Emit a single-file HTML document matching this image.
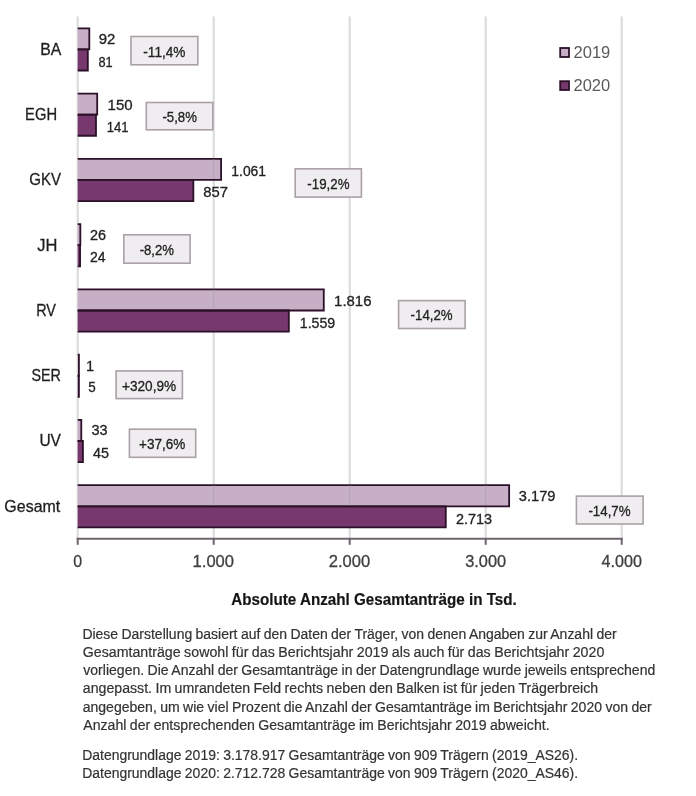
<!DOCTYPE html><html><head><meta charset="utf-8"><style>html,body{margin:0;padding:0;background:#fff;width:696px;height:796px;overflow:hidden}svg{display:block;font-family:"Liberation Sans",sans-serif;filter:blur(0.35px)}</style></head><body>
<svg width="696" height="796" viewBox="0 0 696 796">
<line x1="77.70" y1="16.6" x2="77.70" y2="538.8" stroke="#d9d9d9" stroke-width="2"/>
<line x1="213.70" y1="16.6" x2="213.70" y2="538.8" stroke="#d9d9d9" stroke-width="2"/>
<line x1="349.70" y1="16.6" x2="349.70" y2="538.8" stroke="#d9d9d9" stroke-width="2"/>
<line x1="485.70" y1="16.6" x2="485.70" y2="538.8" stroke="#d9d9d9" stroke-width="2"/>
<line x1="621.70" y1="16.6" x2="621.70" y2="538.8" stroke="#d9d9d9" stroke-width="2"/>
<rect x="77.70" y="28.30" width="11.61" height="21.10" fill="#c7b0c6"/>
<rect x="77.70" y="49.40" width="10.12" height="21.10" fill="#76386d"/>
<path d="M77.70 28.30 H89.31 V49.40 H77.70" fill="none" stroke="#2b1028" stroke-width="1.80"/>
<path d="M77.70 49.40 H87.82 V70.50 H77.70" fill="none" stroke="#2b1028" stroke-width="1.80"/>
<rect x="77.70" y="93.57" width="19.50" height="21.10" fill="#c7b0c6"/>
<rect x="77.70" y="114.67" width="18.28" height="21.10" fill="#76386d"/>
<path d="M77.70 93.57 H97.20 V114.67 H77.70" fill="none" stroke="#2b1028" stroke-width="1.80"/>
<path d="M77.70 114.67 H95.98 V135.77 H77.70" fill="none" stroke="#2b1028" stroke-width="1.80"/>
<rect x="77.70" y="158.84" width="143.40" height="21.10" fill="#c7b0c6"/>
<rect x="77.70" y="179.94" width="115.65" height="21.10" fill="#76386d"/>
<path d="M77.70 158.84 H221.10 V179.94 H77.70" fill="none" stroke="#2b1028" stroke-width="1.80"/>
<path d="M77.70 179.94 H193.35 V201.04 H77.70" fill="none" stroke="#2b1028" stroke-width="1.80"/>
<rect x="77.70" y="224.11" width="2.64" height="21.10" fill="#c7b0c6"/>
<rect x="77.70" y="245.21" width="2.36" height="21.10" fill="#76386d"/>
<path d="M77.70 224.11 H80.34 V245.21 H77.70" fill="none" stroke="#2b1028" stroke-width="1.80"/>
<path d="M77.70 245.21 H80.06 V266.31 H77.70" fill="none" stroke="#2b1028" stroke-width="1.80"/>
<rect x="77.70" y="289.38" width="246.08" height="21.10" fill="#c7b0c6"/>
<rect x="77.70" y="310.48" width="211.12" height="21.10" fill="#76386d"/>
<path d="M77.70 289.38 H323.78 V310.48 H77.70" fill="none" stroke="#2b1028" stroke-width="1.80"/>
<path d="M77.70 310.48 H288.82 V331.58 H77.70" fill="none" stroke="#2b1028" stroke-width="1.80"/>
<rect x="77.70" y="354.65" width="1.20" height="21.10" fill="#c7b0c6"/>
<rect x="77.70" y="375.75" width="1.20" height="21.10" fill="#76386d"/>
<path d="M77.70 354.65 H78.90 V375.75 H77.70" fill="none" stroke="#2b1028" stroke-width="1.80"/>
<path d="M77.70 375.75 H78.90 V396.85 H77.70" fill="none" stroke="#2b1028" stroke-width="1.80"/>
<rect x="77.70" y="419.92" width="3.59" height="21.10" fill="#c7b0c6"/>
<rect x="77.70" y="441.02" width="5.22" height="21.10" fill="#76386d"/>
<path d="M77.70 419.92 H81.29 V441.02 H77.70" fill="none" stroke="#2b1028" stroke-width="1.80"/>
<path d="M77.70 441.02 H82.92 V462.12 H77.70" fill="none" stroke="#2b1028" stroke-width="1.80"/>
<rect x="77.70" y="485.19" width="431.44" height="21.10" fill="#c7b0c6"/>
<rect x="77.70" y="506.29" width="368.07" height="21.10" fill="#76386d"/>
<path d="M77.70 485.19 H509.14 V506.29 H77.70" fill="none" stroke="#2b1028" stroke-width="1.80"/>
<path d="M77.70 506.29 H445.77 V527.39 H77.70" fill="none" stroke="#2b1028" stroke-width="1.80"/>
<line x1="213.70" y1="158.94" x2="213.70" y2="178.94" stroke="#a898a6" stroke-opacity="0.35" stroke-width="2"/>
<line x1="213.70" y1="289.48" x2="213.70" y2="309.48" stroke="#a898a6" stroke-opacity="0.35" stroke-width="2"/>
<line x1="213.70" y1="485.29" x2="213.70" y2="505.29" stroke="#a898a6" stroke-opacity="0.35" stroke-width="2"/>
<line x1="349.70" y1="485.29" x2="349.70" y2="505.29" stroke="#a898a6" stroke-opacity="0.35" stroke-width="2"/>
<line x1="485.70" y1="485.29" x2="485.70" y2="505.29" stroke="#a898a6" stroke-opacity="0.35" stroke-width="2"/>
<line x1="76.70" y1="538.8" x2="622.70" y2="538.8" stroke="#6e646c" stroke-width="2"/>
<line x1="77.70" y1="538" x2="77.70" y2="544.8" stroke="#6e646c" stroke-width="2"/>
<line x1="213.70" y1="538" x2="213.70" y2="544.8" stroke="#6e646c" stroke-width="2"/>
<line x1="349.70" y1="538" x2="349.70" y2="544.8" stroke="#6e646c" stroke-width="2"/>
<line x1="485.70" y1="538" x2="485.70" y2="544.8" stroke="#6e646c" stroke-width="2"/>
<line x1="621.70" y1="538" x2="621.70" y2="544.8" stroke="#6e646c" stroke-width="2"/>
<rect x="131.00" y="36.50" width="66.80" height="28.30" fill="#efedef" stroke="#a9a1a7" stroke-width="1.6"/>
<rect x="146.30" y="102.50" width="66.50" height="27.30" fill="#efedef" stroke="#a9a1a7" stroke-width="1.6"/>
<rect x="295.20" y="168.80" width="66.20" height="28.30" fill="#efedef" stroke="#a9a1a7" stroke-width="1.6"/>
<rect x="123.80" y="234.80" width="66.30" height="28.40" fill="#efedef" stroke="#a9a1a7" stroke-width="1.6"/>
<rect x="398.60" y="300.60" width="66.50" height="27.90" fill="#efedef" stroke="#a9a1a7" stroke-width="1.6"/>
<rect x="116.10" y="370.90" width="66.30" height="27.70" fill="#efedef" stroke="#a9a1a7" stroke-width="1.6"/>
<rect x="129.40" y="429.20" width="66.30" height="28.10" fill="#efedef" stroke="#a9a1a7" stroke-width="1.6"/>
<rect x="576.40" y="496.10" width="66.70" height="27.90" fill="#efedef" stroke="#a9a1a7" stroke-width="1.6"/>
<rect x="560.20" y="48.00" width="8.80" height="9.00" fill="#c7b0c6" stroke="#2b1028" stroke-width="1.8"/>
<rect x="560.20" y="81.20" width="8.80" height="8.80" fill="#76386d" stroke="#2b1028" stroke-width="1.8"/>
<text x="40.22" y="54.50" font-size="16.60" fill="#1e1e1e" stroke="#1e1e1e" stroke-width="0.30" textLength="21.05" lengthAdjust="spacingAndGlyphs">BA</text>
<text x="25.11" y="119.90" font-size="16.60" fill="#1e1e1e" stroke="#1e1e1e" stroke-width="0.30" textLength="31.96" lengthAdjust="spacingAndGlyphs">EGH</text>
<text x="29.20" y="184.50" font-size="16.60" fill="#1e1e1e" stroke="#1e1e1e" stroke-width="0.30" textLength="31.74" lengthAdjust="spacingAndGlyphs">GKV</text>
<text x="37.21" y="250.50" font-size="16.60" fill="#1e1e1e" stroke="#1e1e1e" stroke-width="0.30" textLength="20.16" lengthAdjust="spacingAndGlyphs">JH</text>
<text x="36.13" y="315.80" font-size="16.60" fill="#1e1e1e" stroke="#1e1e1e" stroke-width="0.30" textLength="19.75" lengthAdjust="spacingAndGlyphs">RV</text>
<text x="31.43" y="380.50" font-size="16.60" fill="#1e1e1e" stroke="#1e1e1e" stroke-width="0.30" textLength="29.40" lengthAdjust="spacingAndGlyphs">SER</text>
<text x="39.40" y="446.40" font-size="16.60" fill="#1e1e1e" stroke="#1e1e1e" stroke-width="0.30" textLength="21.55" lengthAdjust="spacingAndGlyphs">UV</text>
<text x="4.36" y="511.70" font-size="16.60" fill="#1e1e1e" stroke="#1e1e1e" stroke-width="0.30" textLength="55.90" lengthAdjust="spacingAndGlyphs">Gesamt</text>
<text x="98.65" y="44.30" font-size="14.70" fill="#222222" stroke="#222222" stroke-width="0.30" textLength="16.62" lengthAdjust="spacingAndGlyphs">92</text>
<text x="98.46" y="66.50" font-size="14.70" fill="#222222" stroke="#222222" stroke-width="0.30" textLength="14.19" lengthAdjust="spacingAndGlyphs">81</text>
<text x="107.61" y="110.00" font-size="14.70" fill="#222222" stroke="#222222" stroke-width="0.30" textLength="25.05" lengthAdjust="spacingAndGlyphs">150</text>
<text x="106.69" y="132.00" font-size="14.70" fill="#222222" stroke="#222222" stroke-width="0.30" textLength="21.81" lengthAdjust="spacingAndGlyphs">141</text>
<text x="231.32" y="175.60" font-size="14.70" fill="#222222" stroke="#222222" stroke-width="0.30" textLength="34.74" lengthAdjust="spacingAndGlyphs">1.061</text>
<text x="203.20" y="196.70" font-size="14.70" fill="#222222" stroke="#222222" stroke-width="0.30" textLength="24.73" lengthAdjust="spacingAndGlyphs">857</text>
<text x="89.88" y="239.90" font-size="14.70" fill="#222222" stroke="#222222" stroke-width="0.30" textLength="16.04" lengthAdjust="spacingAndGlyphs">26</text>
<text x="89.92" y="262.10" font-size="14.70" fill="#222222" stroke="#222222" stroke-width="0.30" textLength="15.58" lengthAdjust="spacingAndGlyphs">24</text>
<text x="334.10" y="305.90" font-size="14.70" fill="#222222" stroke="#222222" stroke-width="0.30" textLength="37.35" lengthAdjust="spacingAndGlyphs">1.816</text>
<text x="299.78" y="327.70" font-size="14.70" fill="#222222" stroke="#222222" stroke-width="0.30" textLength="35.41" lengthAdjust="spacingAndGlyphs">1.559</text>
<text x="86.08" y="371.40" font-size="14.70" fill="#222222" stroke="#222222" stroke-width="0.30">1</text>
<text x="88.19" y="392.10" font-size="14.70" fill="#222222" stroke="#222222" stroke-width="0.30" textLength="7.47" lengthAdjust="spacingAndGlyphs">5</text>
<text x="91.54" y="435.30" font-size="14.70" fill="#222222" stroke="#222222" stroke-width="0.30" textLength="16.15" lengthAdjust="spacingAndGlyphs">33</text>
<text x="93.02" y="457.90" font-size="14.70" fill="#222222" stroke="#222222" stroke-width="0.30" textLength="15.99" lengthAdjust="spacingAndGlyphs">45</text>
<text x="518.83" y="501.40" font-size="14.70" fill="#222222" stroke="#222222" stroke-width="0.30" textLength="36.56" lengthAdjust="spacingAndGlyphs">3.179</text>
<text x="455.93" y="523.60" font-size="14.70" fill="#222222" stroke="#222222" stroke-width="0.30" textLength="36.17" lengthAdjust="spacingAndGlyphs">2.713</text>
<text x="164.39" y="56.70" font-size="14.70" fill="#222222" stroke="#222222" stroke-width="0.30" text-anchor="middle" textLength="42.20" lengthAdjust="spacingAndGlyphs">-11,4%</text>
<text x="179.67" y="121.70" font-size="14.70" fill="#222222" stroke="#222222" stroke-width="0.30" text-anchor="middle" textLength="34.46" lengthAdjust="spacingAndGlyphs">-5,8%</text>
<text x="328.44" y="189.00" font-size="14.70" fill="#222222" stroke="#222222" stroke-width="0.30" text-anchor="middle" textLength="42.16" lengthAdjust="spacingAndGlyphs">-19,2%</text>
<text x="156.85" y="255.10" font-size="14.70" fill="#222222" stroke="#222222" stroke-width="0.30" text-anchor="middle" textLength="34.40" lengthAdjust="spacingAndGlyphs">-8,2%</text>
<text x="431.63" y="320.40" font-size="14.70" fill="#222222" stroke="#222222" stroke-width="0.30" text-anchor="middle" textLength="42.11" lengthAdjust="spacingAndGlyphs">-14,2%</text>
<text x="149.08" y="390.50" font-size="14.70" fill="#222222" stroke="#222222" stroke-width="0.30" text-anchor="middle" textLength="54.17" lengthAdjust="spacingAndGlyphs">+320,9%</text>
<text x="162.26" y="449.20" font-size="14.70" fill="#222222" stroke="#222222" stroke-width="0.30" text-anchor="middle" textLength="46.34" lengthAdjust="spacingAndGlyphs">+37,6%</text>
<text x="609.52" y="515.90" font-size="14.70" fill="#222222" stroke="#222222" stroke-width="0.30" text-anchor="middle" textLength="42.21" lengthAdjust="spacingAndGlyphs">-14,7%</text>
<text x="77.59" y="567.20" font-size="16.60" fill="#404040" stroke="#404040" stroke-width="0.30" text-anchor="middle" textLength="8.90" lengthAdjust="spacingAndGlyphs">0</text>
<text x="213.32" y="567.20" font-size="16.60" fill="#404040" stroke="#404040" stroke-width="0.30" text-anchor="middle" textLength="41.51" lengthAdjust="spacingAndGlyphs">1.000</text>
<text x="349.46" y="567.20" font-size="16.60" fill="#404040" stroke="#404040" stroke-width="0.30" text-anchor="middle" textLength="41.45" lengthAdjust="spacingAndGlyphs">2.000</text>
<text x="485.62" y="567.20" font-size="16.60" fill="#404040" stroke="#404040" stroke-width="0.30" text-anchor="middle" textLength="40.91" lengthAdjust="spacingAndGlyphs">3.000</text>
<text x="621.73" y="567.20" font-size="16.60" fill="#404040" stroke="#404040" stroke-width="0.30" text-anchor="middle" textLength="40.32" lengthAdjust="spacingAndGlyphs">4.000</text>
<text x="573.51" y="57.60" font-size="16.60" fill="#5a5a5a" textLength="36.79" lengthAdjust="spacingAndGlyphs">2019</text>
<text x="573.51" y="90.80" font-size="16.60" fill="#5a5a5a" textLength="36.75" lengthAdjust="spacingAndGlyphs">2020</text>
<text x="231.25" y="605.10" font-size="16.60" font-weight="bold" fill="#151515" stroke="#151515" stroke-width="0.20" textLength="285.53" lengthAdjust="spacingAndGlyphs">Absolute Anzahl Gesamtanträge in Tsd.</text>
<text x="82.38" y="639.00" font-size="14.00" word-spacing="-0.50" fill="#333333" stroke="#333333" stroke-width="0.20" textLength="534.22" lengthAdjust="spacingAndGlyphs">Diese Darstellung basiert auf den Daten der Träger, von denen Angaben zur Anzahl der</text>
<text x="82.66" y="657.00" font-size="14.00" word-spacing="-0.50" fill="#333333" stroke="#333333" stroke-width="0.20" textLength="521.67" lengthAdjust="spacingAndGlyphs">Gesamtanträge sowohl für das Berichtsjahr 2019 als auch für das Berichtsjahr 2020</text>
<text x="83.29" y="675.00" font-size="14.00" word-spacing="-0.50" fill="#333333" stroke="#333333" stroke-width="0.20" textLength="572.03" lengthAdjust="spacingAndGlyphs">vorliegen. Die Anzahl der Gesamtanträge in der Datengrundlage wurde jeweils entsprechend</text>
<text x="82.81" y="693.30" font-size="14.00" word-spacing="-0.50" fill="#333333" stroke="#333333" stroke-width="0.20" textLength="515.31" lengthAdjust="spacingAndGlyphs">angepasst. Im umrandeten Feld rechts neben den Balken ist für jeden Trägerbreich</text>
<text x="82.69" y="711.80" font-size="14.00" word-spacing="-0.50" fill="#333333" stroke="#333333" stroke-width="0.20" textLength="568.99" lengthAdjust="spacingAndGlyphs">angegeben, um wie viel Prozent die Anzahl der Gesamtanträge im Berichtsjahr 2020 von der</text>
<text x="83.28" y="730.00" font-size="14.00" word-spacing="-0.50" fill="#333333" stroke="#333333" stroke-width="0.20" textLength="466.32" lengthAdjust="spacingAndGlyphs">Anzahl der entsprechenden Gesamtanträge im Berichtsjahr 2019 abweicht.</text>
<text x="82.24" y="760.40" font-size="14.00" word-spacing="-0.50" fill="#333333" stroke="#333333" stroke-width="0.20" textLength="495.86" lengthAdjust="spacingAndGlyphs">Datengrundlage 2019: 3.178.917 Gesamtanträge von 909 Trägern (2019_AS26).</text>
<text x="82.24" y="778.40" font-size="14.00" word-spacing="-0.50" fill="#333333" stroke="#333333" stroke-width="0.20" textLength="495.86" lengthAdjust="spacingAndGlyphs">Datengrundlage 2020: 2.712.728 Gesamtanträge von 909 Trägern (2020_AS46).</text>
</svg></body></html>
